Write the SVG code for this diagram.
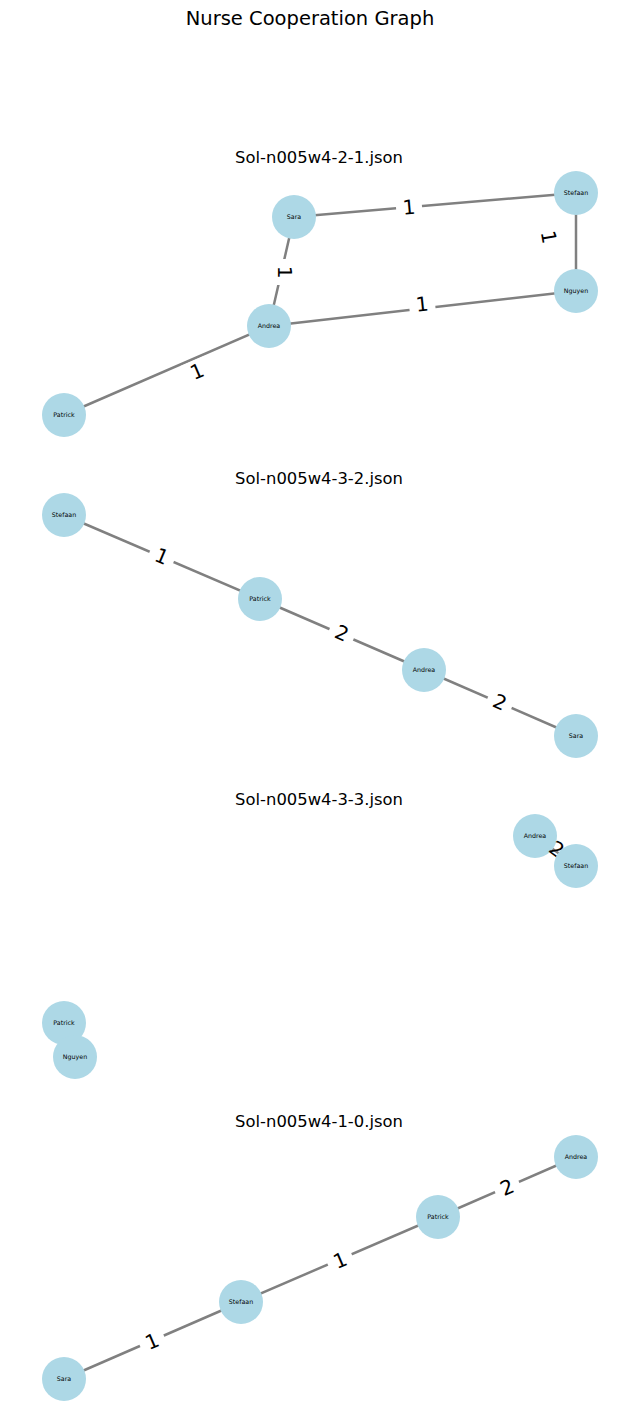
<svg xmlns="http://www.w3.org/2000/svg" width="640" height="1412" viewBox="0 0 640 1412">
<style>
.bg{fill:#ffffff}
.title{font-family:"DejaVu Sans",sans-serif;font-size:19.5px;fill:#000;text-anchor:middle}
.sub{font-family:"DejaVu Sans",sans-serif;font-size:16.4px;fill:#000;text-anchor:middle}
.edge{stroke:#808080;stroke-width:2.5;fill:none}
.node circle{fill:#add8e6}
.node text{font-family:"DejaVu Sans",sans-serif;font-size:6.3px;fill:#000;text-anchor:middle}
.el rect{fill:#ffffff}
.el text{font-family:"DejaVu Sans",sans-serif;font-size:20px;fill:#000;text-anchor:middle}
</style>
<rect class="bg" x="0" y="0" width="640" height="1412"/>
<text class="title" x="310" y="25">Nurse Cooperation Graph</text>
<text class="sub" x="319" y="163">Sol-n005w4-2-1.json</text>
<text class="sub" x="319" y="484">Sol-n005w4-3-2.json</text>
<text class="sub" x="319" y="805">Sol-n005w4-3-3.json</text>
<text class="sub" x="319" y="1127">Sol-n005w4-1-0.json</text>

<g id="connectors">
<line class="edge" x1="294" y1="217" x2="576" y2="193"/>
<line class="edge" x1="294" y1="217" x2="269" y2="326"/>
<line class="edge" x1="576" y1="193" x2="576" y2="291"/>
<line class="edge" x1="269" y1="326" x2="576" y2="291"/>
<line class="edge" x1="269" y1="326" x2="64" y2="415"/>
<line class="edge" x1="64" y1="515" x2="260" y2="599"/>
<line class="edge" x1="260" y1="599" x2="424" y2="670"/>
<line class="edge" x1="424" y1="670" x2="576" y2="736"/>
<line class="edge" x1="535" y1="836" x2="576" y2="866"/>
<line class="edge" x1="576" y1="1157" x2="438" y2="1217"/>
<line class="edge" x1="438" y1="1217" x2="241" y2="1302"/>
<line class="edge" x1="241" y1="1302" x2="64" y2="1379"/>
</g>

<g id="edge-labels">
<g class="el" transform="translate(409,207) rotate(-5)"><rect x="-13" y="-11" width="26" height="22"/><text x="0" y="7.2">1</text></g>
<g class="el" transform="translate(285,272) rotate(90)"><rect x="-13" y="-11" width="26" height="22"/><text x="0" y="7.2">1</text></g>
<g class="el" transform="translate(549,237) rotate(80)"><rect x="-13" y="-11" width="26" height="22"/><text x="0" y="7.2">1</text></g>
<g class="el" transform="translate(422,304) rotate(-6)"><rect x="-13" y="-11" width="26" height="22"/><text x="0" y="7.2">1</text></g>
<g class="el" transform="translate(197,371) rotate(-23.5)"><rect x="-13" y="-11" width="26" height="22"/><text x="0" y="7.2">1</text></g>
<g class="el" transform="translate(162,556) rotate(23)"><rect x="-13" y="-11" width="26" height="22"/><text x="0" y="7.2">1</text></g>
<g class="el" transform="translate(342,633) rotate(23.4)"><rect x="-13" y="-11" width="26" height="22"/><text x="0" y="7.2">2</text></g>
<g class="el" transform="translate(500,702) rotate(23.5)"><rect x="-13" y="-11" width="26" height="22"/><text x="0" y="7.2">2</text></g>
<g class="el" transform="translate(507,1187) rotate(-23.5)"><rect x="-13" y="-11" width="26" height="22"/><text x="0" y="7.2">2</text></g>
<g class="el" transform="translate(340,1260) rotate(-23.3)"><rect x="-13" y="-11" width="26" height="22"/><text x="0" y="7.2">1</text></g>
<g class="el" transform="translate(152,1341) rotate(-23.5)"><rect x="-13" y="-11" width="26" height="22"/><text x="0" y="7.2">1</text></g>
</g>

<g id="g1-sara" class="node"><circle cx="294" cy="217" r="22"/><text x="294" y="219.2">Sara</text></g>
<g id="g1-stefaan" class="node"><circle cx="576" cy="193" r="22"/><text x="576" y="195.2">Stefaan</text></g>
<g id="g1-nguyen" class="node"><circle cx="576" cy="291" r="22"/><text x="576" y="293.2">Nguyen</text></g>
<g id="g1-andrea" class="node"><circle cx="269" cy="326" r="22"/><text x="269" y="328.2">Andrea</text></g>
<g id="g1-patrick" class="node"><circle cx="64" cy="415" r="22"/><text x="64" y="417.2">Patrick</text></g>

<g id="g2-stefaan" class="node"><circle cx="64" cy="515" r="22"/><text x="64" y="517.2">Stefaan</text></g>
<g id="g2-patrick" class="node"><circle cx="260" cy="599" r="22"/><text x="260" y="601.2">Patrick</text></g>
<g id="g2-andrea" class="node"><circle cx="424" cy="670" r="22"/><text x="424" y="672.2">Andrea</text></g>
<g id="g2-sara" class="node"><circle cx="576" cy="736" r="22"/><text x="576" y="738.2">Sara</text></g>

<g id="g3-andrea" class="node"><circle cx="535" cy="836" r="22"/><text x="535" y="838.2">Andrea</text></g>
<g class="el" transform="translate(557,849) rotate(36)"><text x="0" y="7.2">2</text></g>
<g id="g3-stefaan" class="node"><circle cx="576" cy="866" r="22"/><text x="576" y="868.2">Stefaan</text></g>
<g id="g3-patrick" class="node"><circle cx="64" cy="1023" r="22"/><text x="64" y="1025.2">Patrick</text></g>
<g id="g3-nguyen" class="node"><circle cx="75" cy="1057" r="22"/><text x="75" y="1059.2">Nguyen</text></g>

<g id="g4-andrea" class="node"><circle cx="576" cy="1157" r="22"/><text x="576" y="1159.2">Andrea</text></g>
<g id="g4-patrick" class="node"><circle cx="438" cy="1217" r="22"/><text x="438" y="1219.2">Patrick</text></g>
<g id="g4-stefaan" class="node"><circle cx="241" cy="1302" r="22"/><text x="241" y="1304.2">Stefaan</text></g>
<g id="g4-sara" class="node"><circle cx="64" cy="1379" r="22"/><text x="64" y="1381.2">Sara</text></g>
</svg>
